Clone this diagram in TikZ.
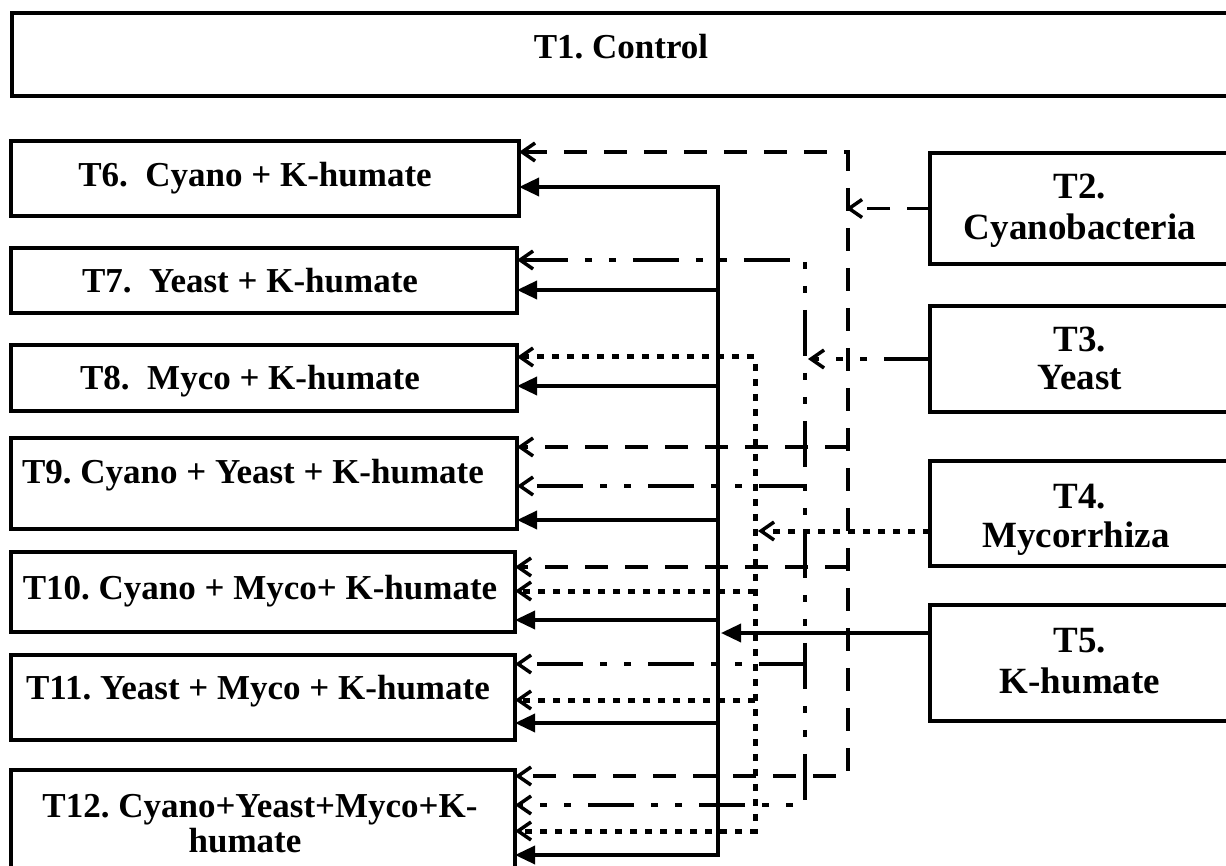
\documentclass[tikz,border=0pt]{standalone}
\usepackage{fontspec}
\setmainfont{Liberation Serif}
\usetikzlibrary{arrows.meta}
\frenchspacing

\begin{document}
\begin{tikzpicture}[x=1pt,y=-1pt,
  box/.style={draw, line width=4pt, anchor=north west, inner sep=0pt, outer sep=0pt},
  txt/.style={font=\fontsize{35}{40}\selectfont\bfseries, anchor=base, inner sep=0pt},
  bigtxt/.style={txt, font=\fontsize{37}{42}\selectfont\bfseries},
  link/.style={line width=3.5pt},
  cyano/.style={link, dash pattern=on 23pt off 17pt},
  yeast/.style={link, dash pattern=on 46pt off 17pt on 7pt off 17pt on 7pt off 17pt},
  myco/.style={line width=5pt, dash pattern=on 7pt off 8pt},
  humate/.style={link},
  barbtip/.tip={Straight Barb[length=13pt,width=18pt,line width=3.5pt]},
  filltip/.tip={Triangle[length=20pt,width=18pt]},
]
\useasboundingbox (0,0) rectangle (1226,866);

% treatment boxes
\node[box, minimum width=1220pt, minimum height=83pt]  (T1)  at (12,13)  {};
\node[box, minimum width=508pt,  minimum height=75pt]  (T6)  at (11,141) {};
\node[box, minimum width=506pt,  minimum height=65pt]  (T7)  at (11,248) {};
\node[box, minimum width=506pt,  minimum height=66pt]  (T8)  at (11,345) {};
\node[box, minimum width=506pt,  minimum height=91pt]  (T9)  at (11,438) {};
\node[box, minimum width=504pt,  minimum height=80pt]  (T10) at (11,552) {};
\node[box, minimum width=504pt,  minimum height=85pt]  (T11) at (11,655) {};
\node[box, minimum width=504pt,  minimum height=120pt] (T12) at (11,770) {};
\node[box, minimum width=305pt,  minimum height=111pt] (T2)  at (930,153) {};
\node[box, minimum width=305pt,  minimum height=106pt] (T3)  at (930,306) {};
\node[box, minimum width=305pt,  minimum height=105pt] (T4)  at (930,461) {};
\node[box, minimum width=305pt,  minimum height=116pt] (T5)  at (930,605) {};

% box texts
\node[txt] (L1)   at (621,59)  {T1. Control};
\node[txt] (L6)   at (255,187) {T6.\ \ Cyano + K-humate};
\node[txt] (L7)   at (250,293) {T7.\ \ Yeast + K-humate};
\node[txt] (L8)   at (250,390) {T8.\ \ Myco + K-humate};
\node[txt] (L9)   at (253,483) {T9. Cyano + Yeast + K-humate};
\node[txt] (L10)  at (260,599) {T10. Cyano + Myco+ K-humate};
\node[txt] (L11)  at (258,699) {T11. Yeast + Myco + K-humate};
\node[txt] (L12a) at (260,817) {T12. Cyano+Yeast+Myco+K-};
\node[txt] (L12b) at (245,852) {humate};
\node[bigtxt] (L2a)  at (1080,199) {T2.};
\node[bigtxt] (L2b)  at (1080,240) {Cyanobacteria};
\node[bigtxt] (L3a)  at (1080,352) {T3.};
\node[bigtxt] (L3b)  at (1080,390) {Yeast};
\node[bigtxt] (L4a)  at (1080,508) {T4.};
\node[bigtxt] (L4b)  at (1076,547) {Mycorrhiza};
\node[bigtxt] (L5a)  at (1080,652) {T5.};
\node[bigtxt] (L5b)  at (1080,693) {K-humate};

% bus corners and entry points
\coordinate (khTop) at (718,187);
\coordinate (khBot) at (718,855);
\coordinate (khIn)  at (721,633);
\coordinate (cyTop) at (848,152);
\coordinate (cyBot) at (848,776);
\coordinate (cyIn)  at (846,208.5);
\coordinate (yeTop) at (805,260);
\coordinate (yeBot) at (805,805);
\coordinate (yeIn)  at (808,359);
\coordinate (myTop) at (755,357);
\coordinate (myBot) at (755,831);
\coordinate (myIn)  at (758,531);

% K-humate (solid)
\draw[humate, filltip-filltip] (T6.east |- khTop) -- (khTop) -- (khBot) -- (T12.east |- khBot);
\draw[humate, -filltip] (T5.west |- khIn) -- (khIn);
\foreach \y/\b in {290/T7, 386/T8, 520/T9, 620/T10, 723/T11}
  \draw[humate, -filltip] (718,\y) -- (\b.east |- 718,\y);

% Cyanobacteria (dashed)
\draw[cyano, barbtip-barbtip] (T6.east |- cyTop) -- (cyTop) -- (cyBot) -- (T12.east |- cyBot);
\draw[cyano, -barbtip] (T2.west) -- (cyIn);
\foreach \y/\b in {447/T9, 567/T10}
  \draw[cyano, -barbtip] (848,\y) -- (\b.east |- 848,\y);

% Yeast (dash-dot)
\draw[yeast, barbtip-barbtip] (T7.east |- yeTop) -- (yeTop) -- (yeBot) -- (T12.east |- yeBot);
\draw[yeast, -barbtip] (T3.west) -- (yeIn);
\foreach \y/\b in {486/T9, 664/T11}
  \draw[yeast, -barbtip] (805,\y) -- (\b.east |- 805,\y);

% Mycorrhiza (dotted)
\draw[myco, barbtip-barbtip] (T8.east |- myTop) -- (myTop) -- (myBot) -- (T12.east |- myBot);
\draw[myco, -barbtip] (T4.west |- myIn) -- (myIn);
\foreach \y/\b in {591/T10, 700/T11}
  \draw[myco, -barbtip] (755,\y) -- (\b.east |- 755,\y);
\end{tikzpicture}
\end{document}
